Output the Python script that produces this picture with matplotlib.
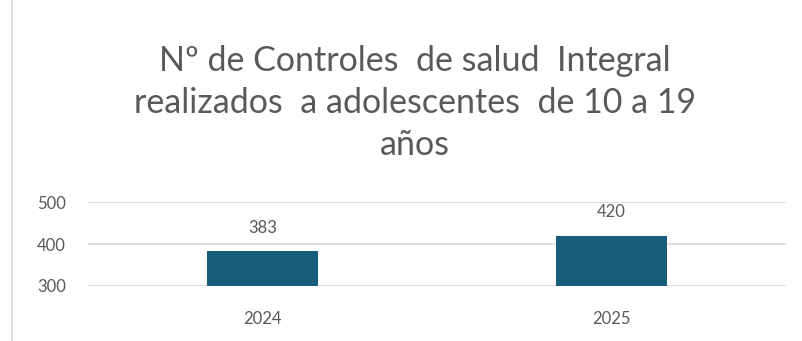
import matplotlib.pyplot as plt

years = ["2024", "2025"]
controls = [383, 420]

plt.rcParams['font.family'] = ['Lato', 'DejaVu Sans']
gray = '#595959'

fig = plt.figure(figsize=(8.02, 3.41), dpi=100)
ax = fig.add_axes([0.1097, 0.1613, 0.8703, 0.2463])

x = range(len(years))
bars = ax.bar(x, controls, width=0.32, color='#175e7d', zorder=3)
for xi, v in zip(x, controls):
    ax.annotate(str(v), (xi, v), xytext=(0, 11), textcoords='offset points',
                ha='center', va='bottom', fontsize=12, color=gray)

ax.set_xlim(-0.5, 1.5)
ax.set_ylim(300, 500)
ax.set_yticks([300, 400, 500])
ax.set_xticks(list(x))
ax.set_xticklabels(years)
ax.tick_params(axis='both', length=0, labelsize=12, labelcolor=gray)
ax.tick_params(axis='x', pad=18)
ax.tick_params(axis='y', pad=16)
ax.grid(axis='y', color='#d9d9d9', linewidth=1.2, zorder=0)
for s in ax.spines.values():
    s.set_visible(False)

fig.text(0.517, 0.868, "Nº de Controles  de salud  Integral\nrealizados  a adolescentes  de 10 a 19\naños",
         ha='center', va='top', fontsize=24.5, color=gray, linespacing=1.39)

fig.add_artist(plt.Line2D([0.015, 0.015], [0.0, 1.0], color='#d9d9d9', linewidth=1.2))

fig.savefig('out.png', dpi=100)
